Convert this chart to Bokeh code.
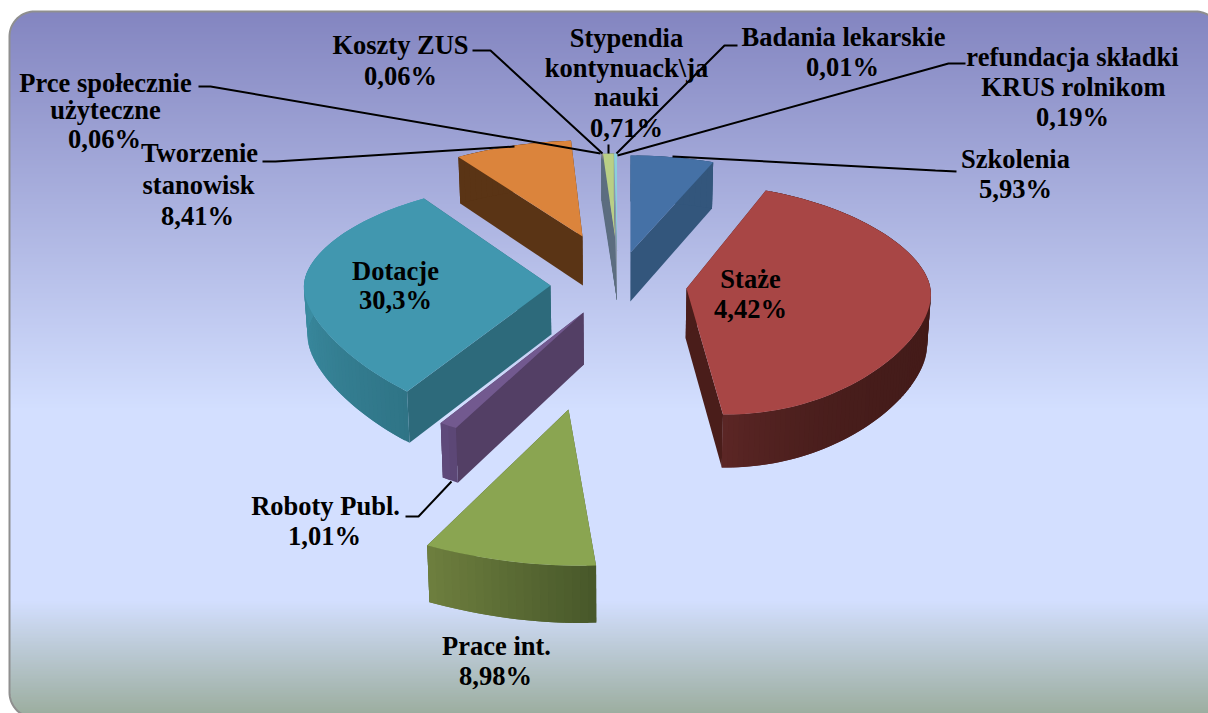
import math
from bokeh.core.properties import value
from bokeh.embed import file_html
from bokeh.models import Range1d
from bokeh.plotting import figure
from bokeh.resources import INLINE

# ---- data (the Staże label is misprinted in the source: 44,2 fills the pie)
categories = ["Szkolenia", "Staże", "Prace int.", "Roboty Publ.", "Dotacje", "Tworzenie stanowisk",
              "Prce społecznie użyteczne", "Koszty ZUS", "Stypendia kontynuack\\ja nauki",
              "Badania lekarskie", "refundacja składki KRUS rolnikom"]
shares = [5.93, 44.2, 8.98, 1.01, 30.3, 8.41, 0.06, 0.06, 0.71, 0.01, 0.19]

label_lines = [["Szkolenia", "5,93%"], ["Staże", "4,42%"], ["Prace int.", "8,98%"],
               ["Roboty Publ.", "1,01%"], ["Dotacje", "30,3%"], ["Tworzenie", "stanowisk", "8,41%"],
               ["Prce społecznie", "użyteczne", "0,06%"], ["Koszty ZUS", "0,06%"],
               ["Stypendia", "kontynuack\\ja", "nauki", "0,71%"], ["Badania lekarskie", "0,01%"],
               ["refundacja składki", "KRUS rolnikom", "0,19%"]]

# ---- layout (projection of each exploded slice)
apex_x = [630, 686, 568, 583, 550, 582, 616.5, 616.5, 616.5, 616.5, 616.5]
apex_y = [252, 288, 409, 312, 285, 236, 250, 250, 250, 250, 250]
scale_x = [260, 240, 346, 293, 245, 254, 285, 285, 285, 285, 285]
shear_near = [0, -39, -31, -17, 16, 0, 0, 0, 0, 0, 0]
shear_far = [0, 3, 0, 0, -6, 3, 0, 0, 0, 0, 0]
scale_y = [97, 114.3, 156, 138, 117.2, 96, 97, 97, 97, 97, 97]
persp = [0, 0.093, 0, 0, 0.142, 0, 0, 0, 0, 0, 0]
tilt = [0, 0, -9.7, 0, 0, 0, 0, 0, 0, 0, 0]
depth = [49, 50, 54, 52, 49, 49, 50, 50, 50, 50, 50]
top_col = ["#4571a6", "#a84645", "#8aa551", "#72598f", "#4197af", "#db843c",
           "#8a94b0", "#a88a80", "#b9cf86", "#a79bc0", "#8ad0dc"]
face_col = ["#33567c", "#4a1d1a", "#47572a", "#533f65", "#2d6a7b", "#5a3415",
            "#5c6d80", "#5c6d80", "#5c6d80", "#5c6d80", "#8d99ad"]
wall_a = ["#33567c", "#431b19", "#47572a", "#5b4674", "#2f7486", "#5a3415",
          "#5c6d80", "#5c6d80", "#5c6d80", "#5c6d80", "#8d99ad"]
wall_b = ["#33567c", "#5c2625", "#6e7f3e", "#5f4a7c", "#45a0b8", "#5a3415",
          "#5c6d80", "#5c6d80", "#5c6d80", "#5c6d80", "#8d99ad"]
wall_pow = [1, 6, 1, 1, 1, 1, 1, 1, 1, 1, 1]
draw_order = [0, 5, 6, 7, 8, 9, 10, 4, 1, 3, 2]
Q = 0.17
EPS = 0.2
SHRINK = 0.012
CX = 617

label_x = [[1015, 1015], [750, 750], [496, 495], [325, 324], [395, 395], [199, 198, 197],
           [105, 105, 104], [400, 400], [626, 626, 626, 626], [843, 842], [1072, 1073, 1072]]
label_y = [[158, 188], [278, 308], [645, 675], [505, 535], [270, 299], [152, 184, 215],
           [82, 109, 138], [44, 75], [37, 67, 96, 127], [36, 66], [56, 86, 116]]
leader_x = [[956, 935, 672], [], [], [405, 418, 451], [], [262, 275, 514],
            [198, 210, 600], [472, 490, 602], [608, 608], [737, 724, 616], [965, 948, 617]]
leader_y = [[171, 170, 156], [], [], [516, 516, 481], [], [161, 161, 146],
            [86, 86, 153], [50, 50, 153], [144, 153], [45, 45, 153], [63, 63, 155]]

card = dict(left=9, top=11, right=1220, bottom=717, r=25)
grad_y = [11, 410, 600, 717]
grad_c = ["#8385c0", "#d3dfff", "#d3dfff", "#9aac9c"]


def rgb(h):
    return tuple(int(h[i:i + 2], 16) for i in (1, 3, 5))


def mix(c0, c1, t):
    a, b = rgb(c0), rgb(c1)
    return "#%02x%02x%02x" % tuple(round(a[i] + (b[i] - a[i]) * t) for i in range(3))


p = figure(width=1208, height=713, x_range=Range1d(0, 1208), y_range=Range1d(713, 0),
           output_backend="svg", toolbar_location=None, min_border=0,
           background_fill_color="white", border_fill_color="white", outline_line_color=None)
p.axis.visible = False
p.grid.visible = False

# ---- card with vertical gradient
L, T, R, B, r = card["left"], card["top"], card["right"], card["bottom"], card["r"]


def grad(y):
    for i in range(len(grad_y) - 1):
        if y <= grad_y[i + 1]:
            return mix(grad_c[i], grad_c[i + 1], (y - grad_y[i]) / (grad_y[i + 1] - grad_y[i]))
    return grad_c[-1]


def inset(y):
    dy = max(T + r - y, y - (B - r), 0)
    return r - math.sqrt(max(r * r - dy * dy, 0))


rows = list(range(T, min(B, 713) + 1))
p.quad(left=[L + inset(y + .5) for y in rows], right=[R - inset(y + .5) for y in rows],
       top=rows, bottom=[y + 2 for y in rows], fill_color=[grad(y + .5) for y in rows],
       line_color=None)
bx, by = [], []
for cx, cy, a0 in [(L + r, T + r, 180), (R - r, T + r, 270), (R - r, B - r, 0), (L + r, B - r, 90)]:
    for k in range(21):
        a = math.radians(a0 + 90 * k / 20)
        bx.append(cx + r * math.cos(a))
        by.append(cy + r * math.sin(a))
p.line(bx + bx[:1], by + by[:1], line_color="#8f8f8f", line_width=2)

# ---- pie, slice angles come from the shares
total = sum(shares)
edges = [0.0]
for s in shares:
    edges.append(edges[-1] + s / total * 360)


def proj(i, th):
    u, v = math.sin(math.radians(th)), math.cos(math.radians(th))
    root = math.sqrt(v * v + EPS * EPS)
    near = (v - root) / 2
    far = (v + root) / 2 - EPS / 2
    x = apex_x[i] + scale_x[i] * u * (1 - Q * (root - EPS)) + shear_near[i] * near + shear_far[i] * far
    y = apex_y[i] - scale_y[i] * v / (1 + persp[i] * v) + tilt[i] * u
    return x, y, v


def low(i, x, y, v):
    return x + (CX - x) * SHRINK, y + depth[i] * (1 - 0.06 * v)


xs, ys, cols = [], [], []
for i in draw_order:
    t0, t1 = edges[i], edges[i + 1]
    n = max(2, int((t1 - t0) / 1.5))
    arc = [proj(i, t0 + (t1 - t0) * k / n) for k in range(n + 1)]
    ax_, ay_ = apex_x[i], apex_y[i]
    abx, aby = low(i, ax_, ay_, 0)
    # the two radial faces
    for a in (arc[-1], arc[0]):
        lx, ly = low(i, *a)
        xs.append([ax_, a[0], lx, abx])
        ys.append([ay_, a[1], ly, aby])
        cols.append(face_col[i])
    # the outer curved wall, overlapping strips so no seam shows
    for k in range(n):
        a, b = arc[k], arc[min(k + 2, n)]
        al, bl = low(i, *a), low(i, *b)
        xs.append([a[0], b[0], bl[0], al[0]])
        ys.append([a[1], b[1], bl[1], al[1]])
        cols.append(mix(wall_a[i], wall_b[i], ((k + .5) / n) ** wall_pow[i]))
    # top surface
    xs.append([ax_] + [a[0] for a in arc])
    ys.append([ay_] + [a[1] for a in arc])
    cols.append(top_col[i])
p.patches(xs, ys, fill_color=cols, line_color=None)

# ---- leaders
lx = [x for x in leader_x if x]
ly = [y for y in leader_y if y]
p.multi_line(lx, ly, line_color="black", line_width=2)

# ---- labels
tx, ty, tt = [], [], []
for lines, xx, yy in zip(label_lines, label_x, label_y):
    tx += xx
    ty += yy
    tt += lines
p.text(tx, ty, text=tt, text_font=value("Liberation Serif"), text_font_style="bold",
       text_font_size="26.5px", text_align="center", text_baseline="middle", text_color="black")

open("out.html", "w").write(file_html(p, INLINE))
